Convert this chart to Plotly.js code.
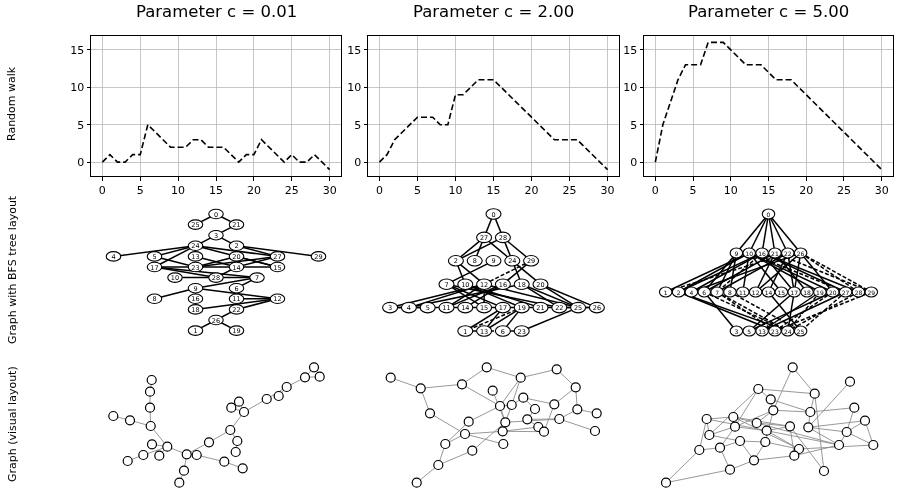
<!doctype html>
<html>
<head>
<meta charset="utf-8">
<script src="https://cdn.plot.ly/plotly-3.0.1.min.js"></script>
<style>
	body { margin: 0; background: #fff; }
	#chart { width: 897px; height: 498px; filter: grayscale(1); }
</style>
</head>
<body>
<div id="chart"></div>
<script>
// ---- data ----
let params = ['0.01', '2.00', '5.00']
let rowNames = ['Random walk', 'Graph with BFS tree layout', 'Graph (visual layout)']
let steps = [0,1,2,3,4,5,6,7,8,9,10,11,12,13,14,15,16,17,18,19,20,21,22,23,24,25,26,27,28,29,30]
let walkA = [0,1,0,0,1,1,5,4,3,2,2,2,3,3,2,2,2,1,0,1,1,3,2,1,0,1,0,0,1,0,-1]
let walkB = [0,1,3,4,5,6,6,6,5,5,9,9,10,11,11,11,10,9,8,7,6,5,4,3,3,3,3,2,1,0,-1]
let walkC = [0,5,8,11,13,13,13,16,16,16,15,14,13,13,13,12,11,11,11,10,9,8,7,6,5,4,3,2,1,0,-1]

// BFS layers (node labels per level)
let layersA = [[0],[25,21],[3],[24,2],[4,5,13,20,27,29],[17,23,14,15],[10,28,7],[9,6],[8,16,11,12],[18,22],[26],[1,19]]
let layersB = [[0],[27,28],[2,8,9,24,29],[7,10,12,16,18,20],[3,4,5,11,14,15,17,19,21,22,25,26],[1,13,6,23]]
let layersC = [[0],[9,10,16,21,22,26],[1,2,4,6,7,8,11,12,14,15,17,18,19,20,27,28,29],[3,5,13,23,24,25]]

let solidA = [[0,25],[0,21],[21,3],[3,24],[3,2],[24,4],[24,5],[24,17],[24,27],[24,15],[2,29],[2,27],
	[5,23],[13,14],[20,23],[20,15],[27,14],[27,23],[14,15],[17,23],[23,14],[17,28],[17,7],[28,14],[10,7],
	[7,9],[7,6],[9,8],[9,16],[9,12],[6,11],[11,12],[22,12],[18,12],[22,26],[26,1],[26,19]]
let dashA = []

let solidB = [[0,27],[0,28],[27,2],[27,8],[27,24],[28,2],[28,24],[28,29],[2,12],[2,10],[9,7],[24,20],[29,16],[24,18],
	[7,15],[7,17],[7,22],[10,19],[10,21],[12,15],[12,4],[12,3],[12,11],[16,11],[16,14],[18,25],[18,22],[18,4],
	[20,26],[20,25],[12,25],[3,26],[3,5],[22,26],[17,1],[17,13],[19,13],[19,6],[25,23],[1,13],[6,23]]
let dashB = [[29,12],[19,1],[13,6]]

let solidC = [[0,9],[0,10],[0,16],[0,21],[0,22],[0,26],
	[9,7],[9,8],[9,6],[10,1],[10,2],[10,11],[10,15],[10,19],[10,20],[16,2],[16,4],[16,17],[16,27],[16,28],
	[21,6],[21,12],[21,18],[22,7],[22,14],[22,17],[26,12],[26,4],[26,17],[26,20],
	[2,23],[2,24],[6,3],[17,5],[17,24],[14,25],[19,13],[27,13],[20,5]]
let dashC = [[26,28],[26,29],[21,29],[16,7],[10,27],[22,1],
	[7,23],[7,24],[6,24],[8,25],[20,23],[28,24],[27,25],[19,24],[29,23]]

// visual layouts (node positions, edges 1-based)
let visAx = [60.7,59,59,22.3,39,59.7,76.3,61,52.3,68.3,36.7,95.7,105.7,93,88.3,133.3,151.7,118,139.3,146.3,144.7,153,140.3,148,175.7,187.7,195.7,214,223,228.7]
let visAy = [25,36.7,52.7,61,65.3,71,91.7,89.3,100,100.7,106,99.3,100,115.7,127.7,106.7,113.3,87.3,75,86,97,57,52.7,46.7,44,41,32,22.3,12.3,21.7]
let visAe = [[1,2],[2,3],[3,6],[4,5],[5,6],[6,7],[7,8],[7,9],[9,11],[7,10],[7,12],[12,13],[12,14],[14,15],[13,16],[16,17],
	[12,18],[18,19],[19,20],[20,21],[19,22],[22,23],[22,24],[22,25],[25,27],[26,27],[27,28],[28,29],[28,30]]

let visBx = [22.7,52.7,62,94,118.7,152.7,188.7,207.7,124.7,155.3,132,143.7,167,186.3,209.3,228.7,191.3,159.3,137.3,100.7,170.3,176,134.7,97,227,77.3,135.3,104.3,70.3,48.7]
let visBy = [22.7,33.3,58.3,29.3,12.3,22.7,14.3,32.3,35.7,42.7,51,50,54,49.3,54.3,58.3,64,64.3,67.3,66.7,72,76.7,76.3,79,76,89,89,95.7,110,127.7]
let visBe = [[1,2],[2,3],[2,4],[4,5],[5,6],[6,7],[7,8],[8,14],[8,15],[15,16],[15,17],[17,25],[4,11],[6,11],[6,12],[9,19],
	[11,12],[12,10],[10,13],[10,14],[14,22],[11,19],[12,19],[19,23],[11,20],[20,26],[24,26],[3,24],[24,23],[26,29],[29,30],
	[28,29],[28,19],[23,22],[23,21],[21,18],[18,17],[27,24],[13,18],[17,19]]

let visCx = [148.7,206,114.3,170.7,126.7,210.3,129.3,166.3,62.7,89.3,221,112.7,91,146,164.3,122.7,202.7,65.3,96,121.3,195,229.3,76,55.3,155,150.3,110,86,180,22]
let visCy = [12.3,26.7,34,38.7,44.3,52.7,55.3,57,64,62,65.7,68,71.7,71.3,72.3,75.7,77,80,86,87,90,90,92.7,95,94,100.7,105.3,114.7,116,127.7]
let visCe = [[1,7],[1,4],[3,5],[3,4],[3,18],[4,8],[4,29],[2,15],[5,7],[5,8],[6,17],[6,8],[7,8],[7,12],[7,13],[7,20],
	[8,15],[9,10],[9,24],[9,18],[9,16],[10,12],[10,14],[11,17],[11,22],[11,15],[12,14],[13,16],[13,23],[14,16],[14,26],
	[14,29],[15,17],[15,21],[16,25],[17,21],[17,22],[18,19],[18,13],[19,20],[19,27],[19,23],[20,25],[20,27],[21,26],
	[22,25],[23,24],[23,28],[24,30],[25,26],[26,27],[27,28],[28,30],[10,25],[3,13],[12,21],[16,21]]

// ---- layout helpers ----
const W = 897, H = 498
let cols = [[91, 341], [368, 619], [644, 893]]
let rows = [[36, 176], [195, 345], [355, 495]]
const xd = c => [c[0] / W, c[1] / W]
const yd = r => [1 - r[1] / H, 1 - r[0] / H]

let layout = {
	width: W, height: H,
	margin: { l: 0, r: 0, t: 0, b: 0 },
	paper_bgcolor: '#fff', plot_bgcolor: '#fff',
	showlegend: false,
	font: { family: 'DejaVu Sans', color: '#000' },
	shapes: [], annotations: []
}
let traces = []

// top row: random walks
let walks = [walkA, walkB, walkC]
walks.forEach((w, i) => {
	let n = i + 1
	let sx = n === 1 ? '' : n
	layout['xaxis' + sx] = {
		domain: xd(cols[i]), anchor: 'y' + sx, range: [-1.5, 31.5],
		tickvals: [0, 5, 10, 15, 20, 25, 30], ticks: 'outside', ticklen: 3.5, tickcolor: '#000',
		showgrid: true, gridcolor: '#b8b8b8', gridwidth: 0.8, zeroline: false,
		showline: true, mirror: true, linecolor: '#000', linewidth: 1,
		tickfont: { size: 11, family: 'DejaVu Sans' }, fixedrange: true
	}
	layout['yaxis' + sx] = {
		domain: yd(rows[0]), anchor: 'x' + sx, range: [-1.85, 16.85],
		tickvals: [0, 5, 10, 15], ticks: 'outside', ticklen: 3.5, tickcolor: '#000',
		showgrid: true, gridcolor: '#b8b8b8', gridwidth: 0.8, zeroline: false,
		showline: true, mirror: true, linecolor: '#000', linewidth: 1,
		tickfont: { size: 11, family: 'DejaVu Sans' }, fixedrange: true
	}
	traces.push({
		x: steps, y: w, xaxis: 'x' + sx, yaxis: 'y' + sx,
		type: 'scatter', mode: 'lines', hoverinfo: 'skip',
		line: { color: '#000', width: 1.6, dash: '6px,3px' }
	})
	layout.annotations.push({
		text: 'Parameter c = ' + params[i], xref: 'paper', yref: 'paper',
		x: (cols[i][0] + cols[i][1]) / 2 / W, y: 1 - 12 / H, showarrow: false,
		xanchor: 'center', yanchor: 'middle', font: { size: 16.5, family: 'DejaVu Sans' }
	})
})

// hidden pixel-like axes for graph panels
function panelAxes(n, col, row) {
	let c = cols[col], r = rows[row]
	layout['xaxis' + n] = { domain: xd(c), anchor: 'y' + n, range: [0, c[1] - c[0]], visible: false, fixedrange: true }
	layout['yaxis' + n] = { domain: yd(r), anchor: 'x' + n, range: [r[1] - r[0], 0], visible: false, fixedrange: true }
}

function edgeTrace(n, pairs, pos, style) {
	let x = [], y = []
	pairs.forEach(([a, b]) => {
		x.push(pos[a][0], pos[b][0], null)
		y.push(pos[a][1], pos[b][1], null)
	})
	return { x, y, xaxis: 'x' + n, yaxis: 'y' + n, type: 'scatter', mode: 'lines', hoverinfo: 'skip', line: style }
}

// middle row: BFS layouts
let bfs = [
	{ layers: layersA, solid: solidA, dash: dashA, dx: 41, dy: 10.6, w: 14.5, h: 9.5, fs: 6.5 },
	{ layers: layersB, solid: solidB, dash: dashB, dx: 18.8, dy: 23.4, w: 15, h: 10.5, fs: 6.5 },
	{ layers: layersC, solid: solidC, dash: dashC, dx: 12.85, dy: 39, w: 12.5, h: 10, fs: 6 }
]
bfs.forEach((g, i) => {
	let n = 4 + i
	panelAxes(n, i, 1)
	let cx = (cols[i][1] - cols[i][0]) / 2, y0 = 19
	let pos = {}
	g.layers.forEach((layer, li) => {
		layer.forEach((id, k) => {
			pos[id] = [cx + (k - (layer.length - 1) / 2) * g.dx, y0 + li * g.dy]
		})
	})
	traces.push(edgeTrace(n, g.solid, pos, { color: '#000', width: 1.5 }))
	if (g.dash.length) traces.push(edgeTrace(n, g.dash, pos, { color: '#000', width: 1.5, dash: '4px,2px' }))
	Object.keys(pos).forEach(id => {
		let [x, y] = pos[id]
		layout.shapes.push({
			type: 'circle', xref: 'x' + n, yref: 'y' + n, layer: 'above',
			x0: x - g.w / 2, x1: x + g.w / 2, y0: y - g.h / 2, y1: y + g.h / 2,
			fillcolor: '#fff', line: { color: '#000', width: 1.1 },
			label: { text: String(id), font: { size: g.fs, family: 'DejaVu Sans', color: '#000' } }
		})
	})
})

// bottom row: visual layouts
let vis = [[visAx, visAy, visAe], [visBx, visBy, visBe], [visCx, visCy, visCe]]
vis.forEach(([vx, vy, ve], i) => {
	let n = 7 + i
	panelAxes(n, i, 2)
	let pos = vx.map((x, k) => [x, vy[k]])
	traces.push(edgeTrace(n, ve.map(([a, b]) => [a - 1, b - 1]), pos, { color: '#8c8c8c', width: 0.9 }))
	traces.push({
		x: vx, y: vy, xaxis: 'x' + n, yaxis: 'y' + n, type: 'scatter', mode: 'markers', hoverinfo: 'skip',
		marker: { size: 9, color: '#fff', line: { color: '#000', width: 1.2 } }
	})
})

// row labels
let rowCenters = [104, 270, 424]
rowNames.forEach((t, i) => {
	layout.annotations.push({
		text: t, xref: 'paper', yref: 'paper', x: 12 / W, y: 1 - rowCenters[i] / H,
		showarrow: false, textangle: -90, xanchor: 'center', yanchor: 'middle',
		font: { size: 11, family: 'DejaVu Sans' }
	})
})

Plotly.newPlot('chart', traces, layout, { displayModeBar: false, staticPlot: true })
</script>
</body>
</html>
